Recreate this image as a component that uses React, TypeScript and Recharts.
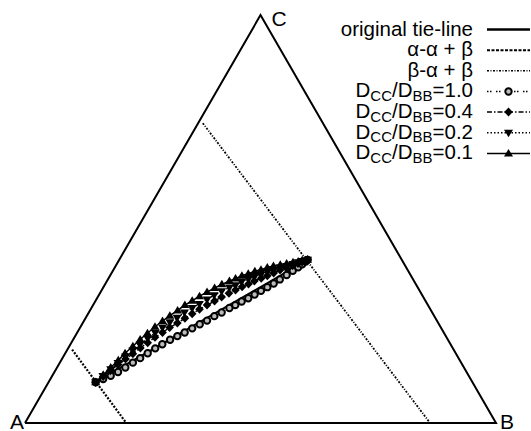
import { ScatterChart, Scatter, XAxis, YAxis, Legend } from 'recharts';

const W = 531;
const H = 431;
const H3 = Math.sqrt(3) / 2;

// corners of the diagram, composition given as (x_B, x_C), x_A = 1 - x_B - x_C
const cornerNames = ['A', 'B', 'C'];
const cornerB = [0, 1, 0];
const cornerC = [0, 0, 1];

// straight lines
const tieB = [0.1, 0.4];
const tieC = [0.1, 0.4];
const alphaB = [0.01, 0.215];
const alphaC = [0.18, 0];
const betaB = [0.01, 0.86];
const betaC = [0.735, 0];

// diffusion paths for each D_CC/D_BB
const d10B = [0.100, 0.112, 0.124, 0.135, 0.145, 0.155, 0.165, 0.175, 0.185, 0.195, 0.206, 0.217, 0.228, 0.239, 0.250, 0.261, 0.271, 0.282, 0.293, 0.302, 0.311, 0.321, 0.330, 0.339, 0.348, 0.357, 0.365, 0.374, 0.382, 0.389, 0.394, 0.398, 0.400];
const d10C = [0.100, 0.108, 0.116, 0.125, 0.136, 0.148, 0.159, 0.171, 0.183, 0.193, 0.204, 0.213, 0.222, 0.232, 0.242, 0.251, 0.262, 0.271, 0.282, 0.289, 0.298, 0.306, 0.315, 0.324, 0.333, 0.342, 0.352, 0.363, 0.373, 0.382, 0.389, 0.396, 0.400];
const d04B = [0.100, 0.109, 0.117, 0.126, 0.135, 0.144, 0.153, 0.162, 0.171, 0.181, 0.190, 0.201, 0.211, 0.221, 0.231, 0.242, 0.253, 0.263, 0.274, 0.284, 0.294, 0.304, 0.313, 0.324, 0.334, 0.344, 0.354, 0.365, 0.375, 0.384, 0.391, 0.396, 0.400];
const d04C = [0.100, 0.114, 0.128, 0.143, 0.157, 0.170, 0.184, 0.197, 0.210, 0.222, 0.234, 0.245, 0.257, 0.268, 0.279, 0.289, 0.299, 0.309, 0.318, 0.326, 0.334, 0.341, 0.348, 0.355, 0.361, 0.368, 0.375, 0.380, 0.386, 0.391, 0.395, 0.398, 0.400];
const d02B = [0.100, 0.108, 0.116, 0.124, 0.132, 0.140, 0.148, 0.157, 0.166, 0.175, 0.184, 0.194, 0.203, 0.214, 0.224, 0.235, 0.245, 0.256, 0.268, 0.278, 0.287, 0.298, 0.308, 0.319, 0.330, 0.340, 0.351, 0.363, 0.374, 0.383, 0.390, 0.396, 0.400];
const d02C = [0.100, 0.115, 0.132, 0.147, 0.163, 0.178, 0.192, 0.207, 0.221, 0.234, 0.247, 0.258, 0.271, 0.282, 0.292, 0.303, 0.313, 0.323, 0.332, 0.338, 0.346, 0.353, 0.358, 0.363, 0.370, 0.375, 0.381, 0.385, 0.390, 0.394, 0.397, 0.398, 0.400];
const d01B = [0.100, 0.107, 0.114, 0.121, 0.127, 0.135, 0.142, 0.150, 0.158, 0.167, 0.176, 0.186, 0.195, 0.205, 0.215, 0.226, 0.237, 0.248, 0.260, 0.270, 0.280, 0.291, 0.302, 0.313, 0.324, 0.335, 0.348, 0.360, 0.372, 0.382, 0.389, 0.396, 0.400];
const d01C = [0.100, 0.118, 0.136, 0.154, 0.171, 0.188, 0.205, 0.220, 0.236, 0.250, 0.263, 0.276, 0.289, 0.300, 0.311, 0.321, 0.331, 0.340, 0.348, 0.354, 0.361, 0.366, 0.372, 0.376, 0.381, 0.385, 0.388, 0.391, 0.394, 0.396, 0.399, 0.399, 0.400];

const ratioLabels = ['1.0', '0.4', '0.2', '0.1'];

// ternary -> cartesian
const toXY = (b: number[], c: number[], names?: string[]) =>
  b.map((v, i) => ({ x: v + c[i] / 2, y: c[i] * H3, name: names ? names[i] : '' }));

const corners = toXY(cornerB, cornerC, cornerNames);
const outline = [...corners, corners[0]];

const FONT = '"Liberation Sans", Arial, Helvetica, sans-serif';

const Circle = ({ cx, cy }: any) => <circle cx={cx} cy={cy} r={3.2} fill="#bbb" stroke="#000" strokeWidth={2} />;
const Diamond = ({ cx, cy }: any) => (
  <path d={`M${cx},${cy - 4.5}L${cx + 4.3},${cy}L${cx},${cy + 4.5}L${cx - 4.3},${cy}Z`} fill="#000" />
);
const TriDown = ({ cx, cy }: any) => (
  <path d={`M${cx - 4.5},${cy - 3}L${cx + 4.5},${cy - 3}L${cx},${cy + 4.5}Z`} fill="#000" />
);
const TriUp = ({ cx, cy }: any) => (
  <path d={`M${cx},${cy - 4.5}L${cx + 4.5},${cy + 3}L${cx - 4.5},${cy + 3}Z`} fill="#000" />
);
const Nothing = () => <g />;

const cornerOffset: Record<string, [number, number, 'start' | 'end']> = {
  A: [-1, 6, 'end'],
  B: [4, 6, 'start'],
  C: [11, 11, 'start'],
};
const CornerLabel = ({ cx, cy, payload }: any) => {
  const [dx, dy, anchor] = cornerOffset[payload.name];
  return (
    <text x={cx + dx} y={cy + dy} textAnchor={anchor} fontFamily={FONT} fontSize={21} fill="#000">
      {payload.name}
    </text>
  );
};

const series = [
  { name: 'D_CC/D_BB=1.0', b: d10B, c: d10C, dash: '1.5 1.5 1.5 4.5', shape: Circle },
  { name: 'D_CC/D_BB=0.4', b: d04B, c: d04C, dash: '5 2 1.5 2', shape: Diamond },
  { name: 'D_CC/D_BB=0.2', b: d02B, c: d02C, dash: '1.5 2', shape: TriDown },
  { name: 'D_CC/D_BB=0.1', b: d01B, c: d01C, dash: undefined, shape: TriUp },
];

const legendTop = 29.5;
const legendStep = 20.65;

function TernaryLegend() {
  const plain = [
    { label: 'original tie-line', dash: undefined, width: 2.5 },
    { label: 'α-α + β', dash: '3 1.5', width: 2 },
    { label: 'β-α + β', dash: '2 1.5 1 1.5', width: 1.6 },
  ];
  return (
    <svg width={W} height={H} style={{ position: 'absolute', left: 0, top: 0 }}>
      {plain.map((p, i) => {
        const y = legendTop + i * legendStep;
        return (
          <g key={p.label}>
            <text x={473} y={y + 6} textAnchor="end" fontFamily={FONT} fontSize={20.5}>{p.label}</text>
            <line x1={487} x2={530} y1={y} y2={y} stroke="#000" strokeWidth={p.width} strokeDasharray={p.dash} />
          </g>
        );
      })}
      {series.map((s, i) => {
        const y = legendTop + (i + 3) * legendStep;
        const M = s.shape;
        return (
          <g key={s.name}>
            <text x={473} y={y + 6} textAnchor="end" fontFamily={FONT} fontSize={20.5}>
              D<tspan dy={3.5} fontSize={15}>CC</tspan>
              <tspan dy={-3.5}>/D</tspan>
              <tspan dy={3.5} fontSize={15}>BB</tspan>
              <tspan dy={-3.5}>={ratioLabels[i]}</tspan>
            </text>
            <line x1={487} x2={530} y1={y} y2={y} stroke="#000" strokeWidth={1.5} strokeDasharray={s.dash} />
            <M cx={508.5} cy={y} />
          </g>
        );
      })}
    </svg>
  );
}

export default function App() {
  return (
    <div style={{ position: 'absolute', left: 0, top: 0, width: W, height: H, background: '#fff' }}>
      <ScatterChart width={W} height={H} margin={{ top: 0, right: 0, bottom: 0, left: 0 }}>
        <XAxis type="number" dataKey="x" domain={[-25 / 471, 506 / 471]} allowDataOverflow hide />
        <YAxis type="number" dataKey="y" domain={[-8 / 471, 423 / 471]} allowDataOverflow hide />
        <Legend
          layout="horizontal"
          verticalAlign="middle"
          align="center"
          wrapperStyle={{ left: 0, top: 0, width: W, height: H }}
          content={() => <TernaryLegend />}
        />
        <Scatter name="outline" data={outline} line={{ stroke: '#000', strokeWidth: 2 }} lineType="joint" shape={Nothing} isAnimationActive={false} legendType="none" />
        <Scatter name="corners" data={corners} shape={CornerLabel} isAnimationActive={false} legendType="none" />
        <Scatter name="α-α + β" data={toXY(alphaB, alphaC)} line={{ stroke: '#000', strokeWidth: 2.2, strokeDasharray: '2 1.5' }} lineType="joint" shape={Nothing} isAnimationActive={false} />
        <Scatter name="β-α + β" data={toXY(betaB, betaC)} line={{ stroke: '#000', strokeWidth: 1.8, strokeDasharray: '2 1.5 1 1.5' }} lineType="joint" shape={Nothing} isAnimationActive={false} />
        <Scatter name="original tie-line" data={toXY(tieB, tieC)} line={{ stroke: '#000', strokeWidth: 2 }} lineType="joint" shape={Nothing} isAnimationActive={false} />
        {series.map((s) => (
          <Scatter
            key={s.name}
            name={s.name}
            data={toXY(s.b, s.c)}
            line={{ stroke: '#000', strokeWidth: 1.5, strokeDasharray: s.dash }}
            lineType="joint"
            shape={s.shape}
            isAnimationActive={false}
          />
        ))}
      </ScatterChart>
    </div>
  );
}
